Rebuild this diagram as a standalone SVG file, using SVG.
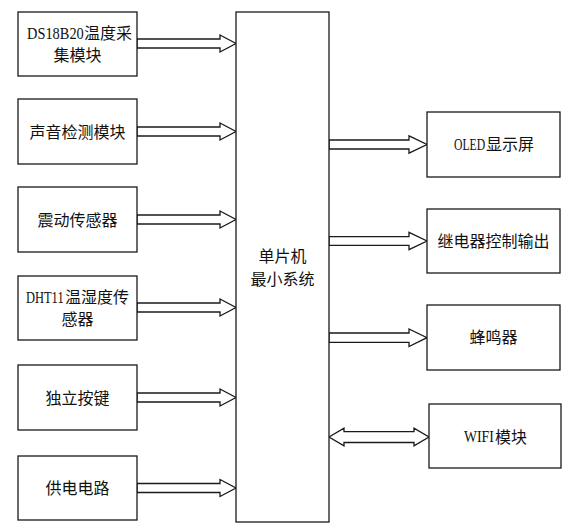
<svg xmlns="http://www.w3.org/2000/svg" width="580" height="532" viewBox="0 0 580 532">
<style>
.box{fill:#fff;stroke:#1a1a1a;stroke-width:1.3}
.arr{fill:#fff;stroke:#1a1a1a;stroke-width:1.3;stroke-linejoin:miter}
text{font-family:"Liberation Serif","Noto Sans CJK SC",serif;font-size:16px;fill:#111;text-anchor:middle;dominant-baseline:central}
text.s{text-anchor:start}
</style>
<rect width="580" height="532" fill="#fff"/>
<g id="connectors">
<polygon class="arr" points="137,39 220,39 220,35 236,43.5 220,52 220,48 137,48"/>
<polygon class="arr" points="137,127 220,127 220,123 236,131.5 220,140 220,136 137,136"/>
<polygon class="arr" points="137,215 220,215 220,211 236,219.5 220,228 220,224 137,224"/>
<polygon class="arr" points="137,303 220,303 220,299 236,307.5 220,316 220,312 137,312"/>
<polygon class="arr" points="137,393 220,393 220,389 236,397.5 220,406 220,402 137,402"/>
<polygon class="arr" points="137,483.5 220,483.5 220,479.5 236,488 220,496.5 220,492.5 137,492.5"/>
<polygon class="arr" points="329,140 409,140 409,135.8 427,144.5 409,153.2 409,149 329,149"/>
<polygon class="arr" points="329,236.7 409,236.7 409,232.3 427,241 409,249.7 409,245.3 329,245.3"/>
<polygon class="arr" points="329,333 409,333 409,329 427,337.7 409,346.5 409,342.3 329,342.3"/>
<polygon class="arr" points="329,437 344,428.2 344,431.7 414,431.7 414,428.2 429,437 414,445.8 414,442.5 344,442.5 344,445.8"/>
</g>
<g id="ds18b20"><rect class="box" x="18" y="12" width="119" height="64"/><text class="s" transform="translate(27,33) scale(0.9,1)">DS18B20</text><text class="s" x="84" y="33">温度采</text><text x="77.5" y="55">集模块</text></g>
<g id="sound"><rect class="box" x="18" y="99" width="119" height="65"/><text x="77.5" y="132">声音检测模块</text></g>
<g id="vibration"><rect class="box" x="18" y="187" width="119" height="65"/><text x="77.5" y="220">震动传感器</text></g>
<g id="dht11"><rect class="box" x="18" y="276" width="119" height="64"/><text class="s" transform="translate(26,297) scale(0.78,1)">DHT11</text><text class="s" x="65" y="297">温湿度传</text><text x="77.5" y="319">感器</text></g>
<g id="keys"><rect class="box" x="18" y="365" width="119" height="65"/><text x="77.5" y="398">独立按键</text></g>
<g id="power"><rect class="box" x="18" y="456" width="119" height="64"/><text x="77.5" y="488">供电电路</text></g>
<g id="mcu"><rect class="box" x="236" y="12" width="93" height="510"/><text x="282.5" y="256">单片机</text><text x="282.5" y="279">最小系统</text></g>
<g id="oled"><rect class="box" x="427" y="112" width="133" height="65"/><text class="s" transform="translate(454,144.5) scale(0.73,1)">OLED</text><text class="s" x="486" y="144.5">显示屏</text></g>
<g id="relay"><rect class="box" x="427" y="209" width="133" height="64"/><text x="493.5" y="241">继电器控制输出</text></g>
<g id="buzzer"><rect class="box" x="427" y="305" width="133" height="65"/><text x="493.5" y="337.5">蜂鸣器</text></g>
<g id="wifi"><rect class="box" x="429" y="404" width="132" height="64"/><text class="s" transform="translate(464,437) scale(0.86,1)">WIFI</text><text class="s" x="495" y="437">模块</text></g>
</svg>
